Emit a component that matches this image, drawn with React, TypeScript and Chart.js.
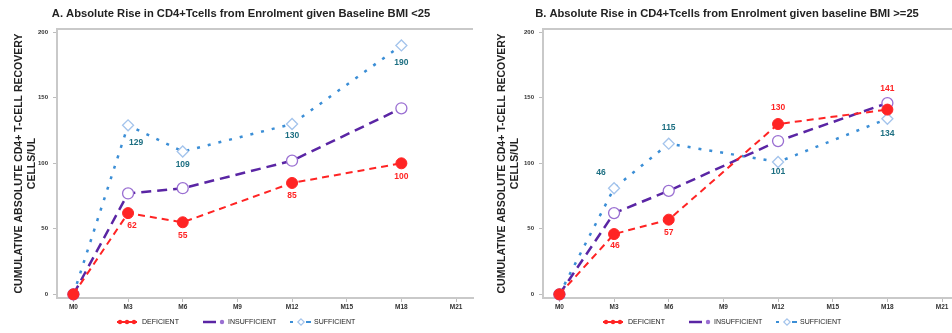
import React, { useEffect, useRef } from "react";
import { Chart, registerables } from "chart.js";

Chart.register(...registerables);

// ---- data ----
const months = [0, 3, 6, 12, 18];
const tickMonths = [0, 3, 6, 9, 12, 15, 18, 21];
const tickLabels = ["M0", "M3", "M6", "M9", "M12", "M15", "M18", "M21"];
const yTicks = [0, 50, 100, 150, 200];
const seriesNames = ["DEFICIENT", "INSUFFICIENT", "SUFFICIENT"];
const yTitle = ["CUMULATIVE ABSOLUTE CD4+ T-CELL RECOVERY", "CELLS/UL"];

const titleA = "A. Absolute Rise in CD4+Tcells from Enrolment given Baseline BMI <25";
const deficientA = [0, 62, 55, 85, 100];
const insufficientA = [0, 77, 81, 102, 142];
const sufficientA = [0, 129, 109, 130, 190];
const deficientLabelsA = ["", "62", "55", "85", "100"];
const sufficientLabelsA = ["", "129", "109", "130", "190"];

const titleB = "B. Absolute Rise in CD4+Tcells from Enrolment given baseline BMI >=25";
const deficientB = [0, 46, 57, 130, 141];
const insufficientB = [0, 62, 79, 117, 146];
const sufficientB = [0, 81, 115, 101, 134];
const deficientLabelsB = ["", "46", "57", "130", "141"];
const sufficientLabelsB = ["", "46", "115", "101", "134"];

// ---- styles ----
const FONT = '"Liberation Sans", Arial, sans-serif';
const RED = "#ff2424";
const PURPLE = "#5a25a4";
const PURPLE_MK = "#9a6fd2";
const BLUE = "#3b8ed6";
const BLUE_MK = "#a4c4ec";
const TEAL = "#1d6f82";
const AXIS = "#c9c9c9";

type LabelSpec = { texts: string[]; offsets: [number, number][]; color: string };

type PanelCfg = {
  title: string;
  left: number;
  width: number;
  padLeft: number;
  padRight: number;
  yWidth: number;
  yTitlePad: number;
  deficient: number[];
  insufficient: number[];
  sufficient: number[];
  labels: LabelSpec[]; // per dataset index 0 and 2
};

const panels: PanelCfg[] = [
  {
    title: titleA,
    left: 0,
    width: 480,
    padLeft: 9,
    padRight: 7,
    yWidth: 48,
    yTitlePad: 4,
    deficient: deficientA,
    insufficient: insufficientA,
    sufficient: sufficientA,
    labels: [
      { texts: deficientLabelsA, offsets: [[0, 0], [4, 13], [0, 13], [0, 13], [0, 13]], color: RED },
      { texts: [], offsets: [], color: PURPLE },
      { texts: sufficientLabelsA, offsets: [[0, 0], [8, 17], [0, 13], [0, 12], [0, 17]], color: TEAL },
    ],
  },
  {
    title: titleB,
    left: 480,
    width: 488,
    padLeft: 15,
    padRight: 9,
    yWidth: 48,
    yTitlePad: 1,
    deficient: deficientB,
    insufficient: insufficientB,
    sufficient: sufficientB,
    labels: [
      { texts: deficientLabelsB, offsets: [[0, 0], [1, 12], [0, 13], [0, -16], [0, -21]], color: RED },
      { texts: [], offsets: [], color: PURPLE },
      { texts: sufficientLabelsB, offsets: [[0, 0], [-13, -16], [0, -16], [0, 10], [0, 15]], color: TEAL },
    ],
  },
];

const topBorderPlugin = {
  id: "topBorder",
  beforeDatasetsDraw(chart: any) {
    const { ctx, chartArea } = chart;
    ctx.save();
    ctx.strokeStyle = AXIS;
    ctx.lineWidth = 2;
    ctx.beginPath();
    ctx.moveTo(chartArea.left, chartArea.top);
    ctx.lineTo(chartArea.right, chartArea.top);
    ctx.stroke();
    ctx.restore();
  },
};

const pointLabelPlugin = {
  id: "pointLabels",
  afterDatasetsDraw(chart: any, _args: any, opts: any) {
    const specs: LabelSpec[] = opts.specs || [];
    const { ctx } = chart;
    ctx.save();
    ctx.font = `bold 8.5px ${FONT}`;
    ctx.textAlign = "center";
    ctx.textBaseline = "middle";
    specs.forEach((spec, di) => {
      const meta = chart.getDatasetMeta(di);
      spec.texts.forEach((t, i) => {
        if (!t) return;
        const el = meta.data[i];
        const [dx, dy] = spec.offsets[i];
        ctx.fillStyle = spec.color;
        ctx.fillText(t, el.x + dx, el.y + dy);
      });
    });
    ctx.restore();
  },
};

const legendPlugin = {
  id: "customLegend",
  afterDraw(chart: any) {
    const { ctx, chartArea } = chart;
    const cx = (chartArea.left + chartArea.right) / 2;
    const start = cx - 148;
    const y = 322;
    ctx.save();
    seriesNames.forEach((name, i) => {
      const x0 = start + i * 86;
      ctx.save();
      if (i === 0) {
        ctx.strokeStyle = RED;
        ctx.lineWidth = 2;
        ctx.beginPath();
        ctx.moveTo(x0, y);
        ctx.lineTo(x0 + 20, y);
        ctx.stroke();
        ctx.fillStyle = RED;
        [x0 + 3, x0 + 10, x0 + 17].forEach((px) => {
          ctx.beginPath();
          ctx.arc(px, y, 2.2, 0, Math.PI * 2);
          ctx.fill();
        });
      } else if (i === 1) {
        ctx.strokeStyle = PURPLE;
        ctx.lineWidth = 2.5;
        ctx.beginPath();
        ctx.moveTo(x0, y);
        ctx.lineTo(x0 + 13, y);
        ctx.stroke();
        ctx.fillStyle = PURPLE_MK;
        ctx.beginPath();
        ctx.arc(x0 + 19, y, 2.2, 0, Math.PI * 2);
        ctx.fill();
      } else {
        ctx.fillStyle = BLUE;
        ctx.fillRect(x0 + 1, y - 1, 3, 2);
        ctx.strokeStyle = BLUE_MK;
        ctx.lineWidth = 1.2;
        ctx.beginPath();
        ctx.moveTo(x0 + 12, y - 3.2);
        ctx.lineTo(x0 + 15.2, y);
        ctx.lineTo(x0 + 12, y + 3.2);
        ctx.lineTo(x0 + 8.8, y);
        ctx.closePath();
        ctx.stroke();
        ctx.strokeStyle = BLUE;
        ctx.lineWidth = 2;
        ctx.beginPath();
        ctx.moveTo(x0 + 17, y);
        ctx.lineTo(x0 + 22, y);
        ctx.stroke();
      }
      ctx.restore();
      ctx.fillStyle = "#222";
      ctx.font = `7px ${FONT}`;
      ctx.textAlign = "left";
      ctx.textBaseline = "middle";
      ctx.fillText(name, x0 + 25, y + 0.5);
    });
    ctx.restore();
  },
};

function Panel({ cfg }: { cfg: PanelCfg }) {
  const ref = useRef<HTMLCanvasElement>(null);
  useEffect(() => {
    const toPts = (vals: number[]) => months.map((m, i) => ({ x: m, y: vals[i] }));
    const chart = new Chart(ref.current as HTMLCanvasElement, {
      type: "line",
      data: {
        datasets: [
          {
            label: seriesNames[0],
            data: toPts(cfg.deficient),
            borderColor: RED,
            borderWidth: 2,
            borderDash: [7, 5],
            pointStyle: "circle",
            pointRadius: 5.5,
            pointBackgroundColor: RED,
            pointBorderColor: RED,
            pointBorderWidth: 1,
            clip: false,
          } as any,
          {
            label: seriesNames[1],
            data: toPts(cfg.insufficient),
            borderColor: PURPLE,
            borderWidth: 2.5,
            borderDash: [10, 6],
            pointStyle: "circle",
            pointRadius: 5.5,
            pointBackgroundColor: "#ffffff",
            pointBorderColor: PURPLE_MK,
            pointBorderWidth: 1.3,
            clip: false,
          } as any,
          {
            label: seriesNames[2],
            data: toPts(cfg.sufficient),
            borderColor: BLUE,
            borderWidth: 2.5,
            borderDash: [3, 8],
            pointStyle: "rectRot",
            pointRadius: 5.5,
            pointBackgroundColor: "#ffffff",
            pointBorderColor: BLUE_MK,
            pointBorderWidth: 1.3,
            clip: false,
          } as any,
        ],
      },
      options: {
        responsive: false,
        animation: false,
        events: [],
        layout: { padding: { left: cfg.padLeft, right: cfg.padRight, top: 0, bottom: 21 } },
        plugins: {
          legend: { display: false },
          tooltip: { enabled: false },
          title: {
            display: true,
            text: cfg.title,
            color: "#222",
            font: { family: FONT, size: 11.2, weight: "bold" },
            padding: { top: 7.3, bottom: 8.3 },
          },
          pointLabels: { specs: cfg.labels },
        } as any,
        scales: {
          x: {
            type: "linear",
            min: -0.9,
            max: 21.93,
            afterBuildTicks: (s: any) => {
              s.ticks = tickMonths.map((v) => ({ value: v }));
            },
            afterFit: (s: any) => {
              s.height = 14;
            },
            ticks: {
              callback: (v: any) => {
                const idx = tickMonths.indexOf(Number(v));
                return idx >= 0 ? tickLabels[idx] : "";
              },
              color: "#333",
              font: { family: FONT, size: 6.5, weight: "bold" },
              padding: 1,
              maxRotation: 0,
              autoSkip: false,
            },
            grid: { drawOnChartArea: false, drawTicks: true, tickLength: 4, color: "#bdbdbd" },
            border: { color: AXIS, width: 2 },
          },
          y: {
            min: -2.8,
            max: 202.5,
            afterBuildTicks: (s: any) => {
              s.ticks = yTicks.map((v) => ({ value: v }));
            },
            afterFit: (s: any) => {
              s.width = cfg.yWidth;
            },
            ticks: {
              color: "#333",
              font: { family: FONT, size: 6, weight: "bold" },
              padding: 5,
            },
            grid: { drawOnChartArea: false, drawTicks: true, tickLength: 4, color: "#bdbdbd" },
            border: { color: AXIS, width: 2 },
            title: {
              display: true,
              text: yTitle,
              color: "#222",
              font: { family: FONT, size: 10.5, weight: "bold", lineHeight: 1.2 },
              padding: { top: cfg.yTitlePad, bottom: 0 },
            },
          },
        },
      } as any,
      plugins: [topBorderPlugin, pointLabelPlugin, legendPlugin],
    });
    return () => chart.destroy();
  }, [cfg]);
  return (
    <div style={{ position: "absolute", left: cfg.left, top: 0, width: cfg.width, height: 333 }}>
      <canvas ref={ref} width={cfg.width} height={333} style={{ width: cfg.width, height: 333, display: "block" }} />
    </div>
  );
}

export default function App() {
  useEffect(() => {
    document.body.style.margin = "0";
    document.body.style.overflow = "hidden";
  }, []);
  return (
    <div style={{ position: "relative", width: 952, height: 333, overflow: "hidden", background: "#fff" }}>
      {panels.map((p, i) => (
        <Panel key={i} cfg={p} />
      ))}
    </div>
  );
}
